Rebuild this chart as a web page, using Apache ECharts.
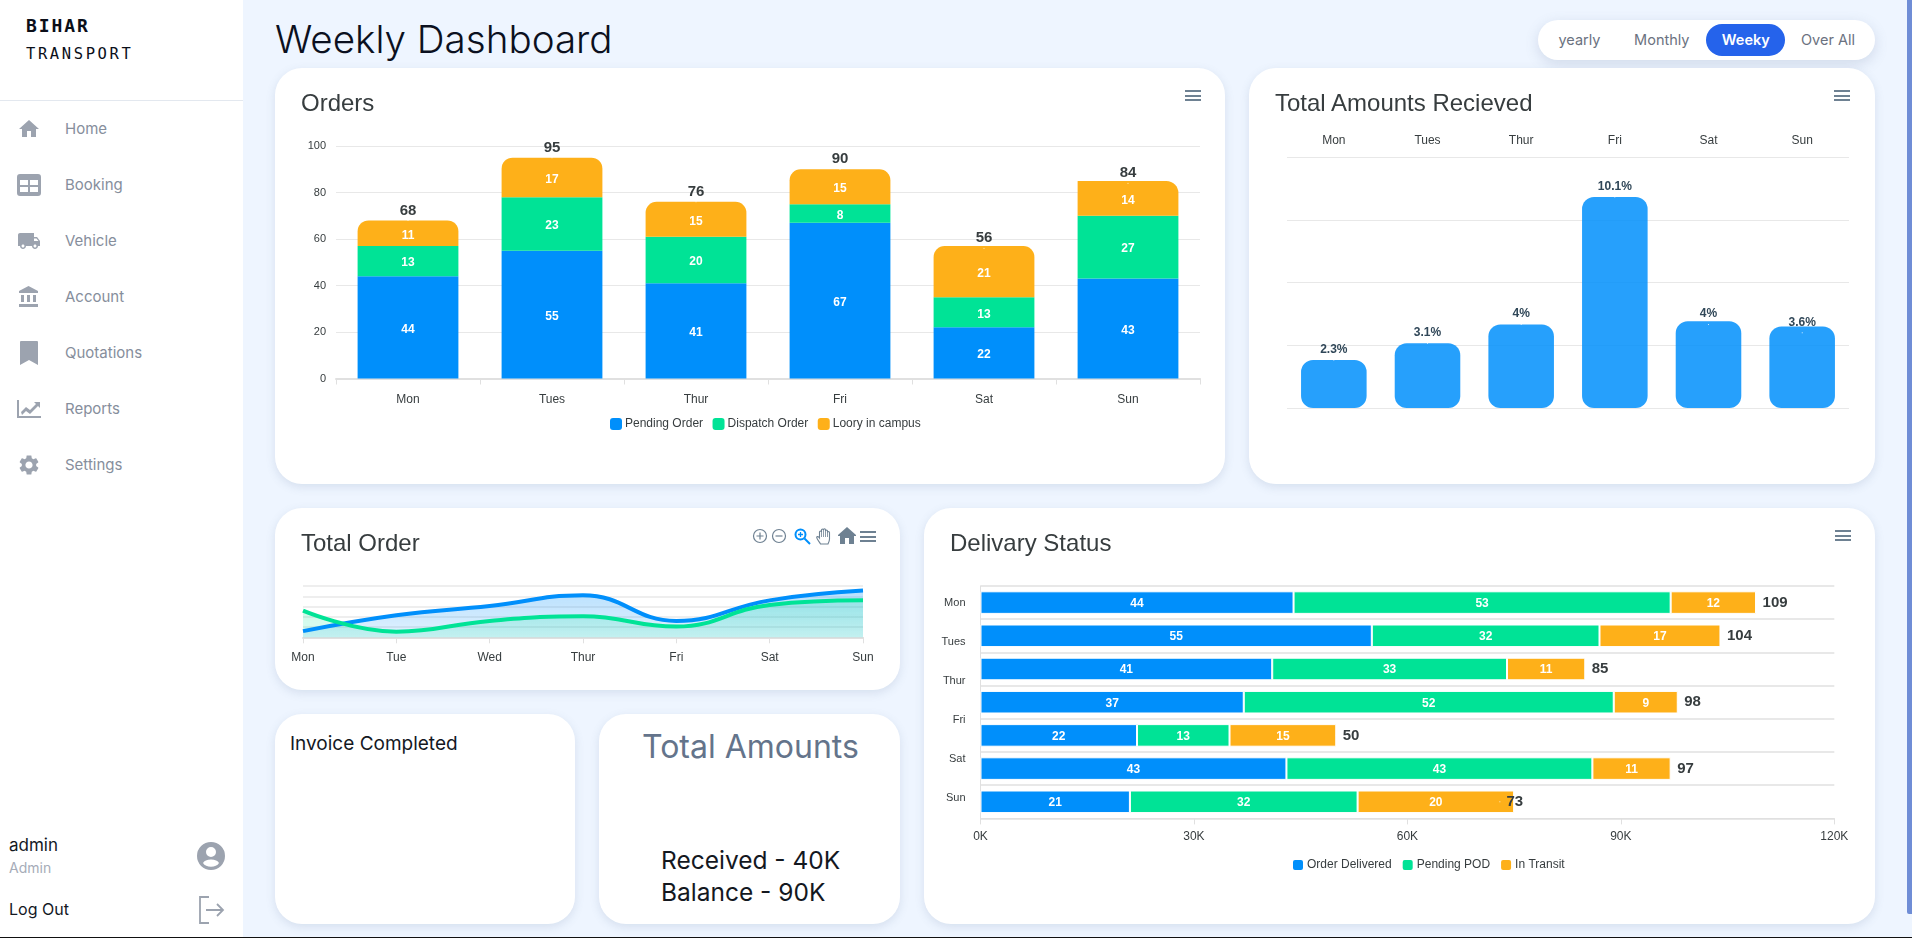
<!DOCTYPE html>
<html>
<head>
<meta charset="utf-8">
<title>Weekly Dashboard</title>
<script src="https://cdn.jsdelivr.net/npm/echarts@6/dist/echarts.min.js"></script>
<style>
html, body { margin: 0; padding: 0; width: 1912px; height: 938px; overflow: hidden; background: #eef5ff; font-family: Inter, "Noto Sans", sans-serif; }
.abs, .card, .txt, .icon { position: absolute; }
.sidebar { position: absolute; left: 0; top: 0; width: 243px; height: 938px; background: #fff; }
.divider { position: absolute; left: 0; top: 100px; width: 243px; height: 1px; background: #e3e8ef; }
.menu { position: absolute; left: 65px; font-size: 15px; line-height: 20px; color: #868e9c; }
.icon { fill: #9ca3af; }
.card { background: #fff; border-radius: 27px; box-shadow: 0 3px 10px rgba(90, 110, 150, 0.16); }
.chart { position: absolute; left: 0; top: 0; width: 100%; height: 100%; }
.title { position: absolute; left: 26px; top: 21px; font: 24px/28px "Liberation Sans", Arial, sans-serif; color: #373d3f; white-space: nowrap; z-index: 2; }
.burger { position: absolute; width: 16px; height: 11px; border-top: 2px solid #6e8192; border-bottom: 2px solid #6e8192; box-sizing: border-box; z-index: 2; }
.burger:after { content: ""; position: absolute; left: 0; right: 0; top: 2.5px; height: 2px; background: #6e8192; }
.tabs { position: absolute; left: 1538px; top: 20px; width: 337px; height: 40px; border-radius: 20px; background: #fff; box-shadow: 0 4px 14px rgba(90, 110, 150, 0.2); }
.pill { position: absolute; left: 168px; top: 4px; width: 79px; height: 32px; border-radius: 16px; background: #2563eb; }
.tab { position: absolute; top: 0; line-height: 40px; font-size: 14.5px; color: #6b7280; transform: translateX(-50%); white-space: nowrap; }
.strip { position: absolute; left: 1907px; top: 0; width: 5px; height: 914px; background: #6f8dd6; border-bottom-left-radius: 2px; }
.bottom-line { position: absolute; left: 0; top: 937px; width: 1912px; height: 1px; background: #111; z-index: 5; }
</style>
</head>
<body>
<div class="sidebar">
  <div class="abs" style="left:26px;top:15px;font:bold 18px/22px 'DejaVu Sans Mono',monospace;letter-spacing:1.900px;color:#0b0f19;">BIHAR</div>
  <div class="abs" style="left:26px;top:43px;font:15.5px/22px 'DejaVu Sans Mono',monospace;letter-spacing:2.600px;color:#0b0f19;">TRANSPORT</div>
  <div class="divider"></div>

  <svg class="icon" style="left:17px;top:117px" width="24" height="24" viewBox="0 0 24 24"><path d="M10 20v-6h4v6h5v-8h3L12 3 2 12h3v8z"/></svg>
  <div class="menu" style="top:119px">Home</div>
  <svg class="icon" style="left:17px;top:174px" width="24" height="22" viewBox="0 0 24 22"><path fill-rule="evenodd" d="M3 0h18a3 3 0 0 1 3 3v16a3 3 0 0 1-3 3H3a3 3 0 0 1-3-3V3a3 3 0 0 1 3-3zM3 6v5h8V6zm10 0v5h8V6zM3 13v5h8v-5zm10 0v5h8v-5z"/></svg>
  <div class="menu" style="top:175px">Booking</div>
  <svg class="icon" style="left:17px;top:229px" width="24" height="24" viewBox="0 0 24 24"><path d="M20 8h-3V4H3c-1.1 0-2 .9-2 2v11h2c0 1.66 1.34 3 3 3s3-1.34 3-3h6c0 1.66 1.34 3 3 3s3-1.34 3-3h2v-5l-3-4zM6 18.500c-.83 0-1.500-.67-1.500-1.500s.67-1.500 1.500-1.500 1.500.67 1.500 1.500-.67 1.500-1.500 1.500zm13.500-9l1.960 2.500H17V9.500h2.500zm-1.500 9c-.83 0-1.500-.67-1.500-1.500s.67-1.500 1.500-1.500 1.500.67 1.500 1.500-.67 1.500-1.500 1.500z"/></svg>
  <div class="menu" style="top:231px">Vehicle</div>
  <svg class="icon" style="left:17px;top:285px" width="24" height="24" viewBox="0 0 24 24"><path d="M4 10v7h3v-7H4zm6 0v7h3v-7h-3zM2 22h19v-3H2v3zm14-12v7h3v-7h-3zm-4.500-9L2 6v2h19V6l-9.500-5z"/></svg>
  <div class="menu" style="top:287px">Account</div>
  <svg class="icon" style="left:19px;top:341px" width="20" height="24" viewBox="0 0 20 24"><path d="M2 0h16a1 1 0 0 1 1 1v23l-9-5-9 5V1a1 1 0 0 1 1-1z"/></svg>
  <div class="menu" style="top:343px">Quotations</div>
  <svg class="icon" style="left:17px;top:400px" width="24" height="18" viewBox="0 0 24 18"><path d="M0 0h2v16h22v2H0z"/><path d="M4 12l5-5 4 3 6-6-2-2h6v6l-2-2-8 8-4-3-4 4z"/></svg>
  <div class="menu" style="top:399px">Reports</div>
  <svg class="icon" style="left:17px;top:453px" width="24" height="24" viewBox="0 0 24 24"><path d="M19.140 12.940c.04-.3.06-.61.06-.94 0-.32-.02-.64-.07-.94l2.030-1.580c.18-.14.23-.41.12-.61l-1.920-3.320c-.12-.22-.37-.29-.59-.22l-2.390.96c-.5-.38-1.030-.7-1.620-.94l-.36-2.540c-.04-.24-.24-.41-.48-.41h-3.840c-.24 0-.43.17-.47.41l-.36 2.540c-.59.24-1.130.57-1.620.94l-2.390-.96c-.22-.08-.47 0-.59.22L2.740 8.870c-.12.21-.08.47.12.61l2.030 1.580c-.05.3-.09.63-.09.94s.02.64.07.94l-2.030 1.580c-.18.14-.23.41-.12.61l1.920 3.320c.12.22.37.29.59.22l2.390-.96c.5.38 1.030.7 1.620.94l.36 2.540c.05.24.24.41.48.41h3.840c.24 0 .44-.17.47-.41l.36-2.540c.59-.24 1.130-.56 1.620-.94l2.390.96c.22.08.47 0 .59-.22l1.920-3.320c.12-.22.07-.47-.12-.61l-2.010-1.580zM12 15.600c-1.980 0-3.600-1.620-3.600-3.600s1.620-3.600 3.600-3.600 3.600 1.620 3.600 3.600-1.620 3.600-3.600 3.600z"/></svg>
  <div class="menu" style="top:455px">Settings</div>

  <div class="abs" style="left:9px;top:834px;font-size:17px;line-height:22px;color:#14181f;">admin</div>
  <div class="abs" style="left:9px;top:858px;font-size:14px;line-height:20px;color:#a6acb8;">Admin</div>
  <svg class="icon" style="left:197px;top:842px" width="28" height="28" viewBox="0 0 28 28"><path fill-rule="evenodd" d="M14 0a14 14 0 1 1 0 28a14 14 0 1 1 0-28zM14 5a5 5 0 1 0 0 10a5 5 0 1 0 0-10zM6 21c1.500 2.500 4.500 3.800 8 3.800s6.500-1.300 8-3.800c-1-2.200-4-3.500-8-3.500s-7 1.300-8 3.500z"/></svg>
  <div class="abs" style="left:9px;top:898px;font-size:16px;line-height:22px;color:#14181f;">Log Out</div>
  <svg class="abs" style="left:198px;top:895px" width="28" height="30" viewBox="0 0 28 30" fill="none" stroke="#9ca3af" stroke-width="1.800"><path d="M11 2H2v26h9"/><path d="M8 15h17M19 9l6 6-6 6"/></svg>
</div>

<div class="abs" style="left:275px;top:13px;font-size:38.600px;line-height:52px;font-weight:300;color:#0b1020;white-space:nowrap;">Weekly Dashboard</div>

<div class="tabs">
  <div class="pill"></div>
  <div class="tab" style="left:41.500px">yearly</div>
  <div class="tab" style="left:123.800px">Monthly</div>
  <div class="tab" style="left:207.800px;color:#fff;font-weight:600">Weeky</div>
  <div class="tab" style="left:290px">Over All</div>
</div>

<div class="card" style="left:275px;top:68px;width:950px;height:416px;">
  <div id="ordersChart" class="chart"></div>
  <div class="title">Orders</div>
  <div class="burger" style="left:910px;top:22px"></div>
</div>

<div class="card" style="left:1249px;top:68px;width:626px;height:416px;">
  <div id="amountsChart" class="chart"></div>
  <div class="title">Total Amounts Recieved</div>
  <div class="burger" style="left:585px;top:22px"></div>
</div>

<div class="card" style="left:275px;top:508px;width:625px;height:182px;">
  <div id="totalOrderChart" class="chart"></div>
  <div class="title">Total Order</div>
  <svg class="abs" style="left:477px;top:20px;z-index:2" width="36" height="16" viewBox="0 0 36 16" fill="none" stroke="#6e8192" stroke-width="1.200"><circle cx="8" cy="8" r="6.500"/><path d="M8 4.500v7M4.500 8h7"/><circle cx="27" cy="8" r="6.500"/><path d="M23.500 8h7"/></svg>
  <svg class="abs" style="left:519px;top:20px;z-index:2" width="17" height="17" viewBox="0 0 17 17" fill="none" stroke="#008ffb" stroke-width="2"><circle cx="6.500" cy="6.500" r="5"/><path d="M10.500 10.500l5.500 5.500"/><path stroke-width="1.300" d="M6.500 4v5M4 6.500h5"/></svg>
  <svg class="abs" style="left:541px;top:19.500px;z-index:2" width="16" height="17" viewBox="0 0 16 17" fill="#fff" stroke="#6e8192" stroke-width="1.100"><path d="M4.500 16C3.500 14 .7 11 .7 9.500S2.500 8.500 3.500 10V4a1 1 0 0 1 2 0V2a1 1 0 0 1 2 0v-.2a1 1 0 0 1 2 0V3a1 1 0 0 1 2 0v1.500a1 1 0 0 1 2 0V11c0 2-.8 3.500-1.500 5z"/><path d="M5.500 4v5M7.500 2v7M9.500 2v7M11.500 3v6" stroke-width="0.800"/></svg>
  <svg class="abs" style="left:563px;top:19px;z-index:2" width="18" height="18" viewBox="3 3 18 18" fill="#6e8192"><path d="M10 20v-6h4v6h5v-8h3L12 3 2 12h3v8z"/></svg>
  <div class="burger" style="left:585px;top:23px"></div>
</div>

<div class="card" style="left:275px;top:714px;width:300px;height:210px;">
  <div class="abs" style="left:15px;top:18px;font-size:19px;line-height:24px;color:#14181f;white-space:nowrap;">Invoice Completed</div>
</div>

<div class="card" style="left:599px;top:714px;width:301px;height:210px;">
  <div class="abs" style="left:43px;top:13px;font-size:32px;line-height:40px;color:#64748b;white-space:nowrap;">Total Amounts</div>
  <div class="abs" style="left:62px;top:130px;font-size:24.500px;line-height:32px;color:#14181f;white-space:nowrap;">Received - 40K<br>Balance - 90K</div>
</div>

<div class="card" style="left:924px;top:508px;width:951px;height:416px;">
  <div id="deliveryChart" class="chart"></div>
  <div class="title">Delivary Status</div>
  <div class="burger" style="left:911px;top:22px"></div>
</div>

<div class="strip"></div>
<div class="bottom-line"></div>

<script>
const BLUE = '#008ffb';
const GREEN = '#00e396';
const ORANGE = '#feb019';
const TEXT = '#373d3f';
const GRID_LINE = '#e8e8e8';
const CHART_FONT = '"Liberation Sans", Arial, sans-serif';

// Orders
const orderDays = ['Mon', 'Tues', 'Thur', 'Fri', 'Sat', 'Sun'];
const pendingOrder = [44, 55, 41, 67, 22, 43];
const dispatchOrder = [13, 23, 20, 8, 13, 27];
const looryInCampus = [11, 17, 15, 15, 22, 15];
const looryLabels = [11, 17, 15, 15, 21, 14];
const orderTotals = [68, 95, 76, 90, 56, 84];

// Total Amounts Recieved
const amountBars = [2.3, 3.1, 4, 10.1, 4.15, 3.9];
const amountLabels = [2.3, 3.1, 4, 10.1, 4, 3.6];

// Total Order
const totalOrderDays = ['Mon', 'Tue', 'Wed', 'Thur', 'Fri', 'Sat', 'Sun'];
const totalOrderBlue = [12, 43, 61, 82, 32, 72, 91];
const totalOrderGreen = [52, 11, 32, 41, 21, 63, 72];

// Delivary Status
const deliveryRows = ['Mon', 'Tues', 'Thur', 'Fri', 'Sat', 'Sat2', 'Sun'];
const deliveryAxisLabels = ['Mon', 'Tues', 'Thur', 'Fri', 'Sat', 'Sun'];
const orderDelivered = [44, 55, 41, 37, 22, 43, 21];
const pendingPod = [53, 32, 33, 52, 13, 43, 32];
const inTransit = [12, 17, 11, 9, 15, 11, 22];
const inTransitLabels = [12, 17, 11, 9, 15, 11, 20];
const deliveryTotals = [109, 104, 85, 98, 50, 97, 73];

const axisText = { color: TEXT, fontSize: 12, fontFamily: CHART_FONT };

function legendOf(names, left, top, gap) {
  return {
    data: names, left: left, top: top, orient: 'horizontal',
    icon: 'roundRect', itemWidth: 12, itemHeight: 12, itemGap: gap,
    textStyle: { color: TEXT, fontSize: 12, fontFamily: CHART_FONT, padding: [0, 0, 0, -2] },
    selectedMode: false
  };
}

function whiteLabel(formatter, dy) {
  return { show: true, position: 'inside', offset: [0, dy], color: '#fff', fontSize: 12, fontWeight: 'bold', fontFamily: CHART_FONT, formatter: formatter };
}

function totalLabel(position, distance) {
  return {
    show: true, position: position, distance: distance, color: TEXT,
    fontSize: 15, fontWeight: 'bold', fontFamily: CHART_FONT
  };
}

const ordersChart = echarts.init(document.getElementById('ordersChart'));
ordersChart.setOption({
  animation: false,
  legend: legendOf(['Pending Order', 'Dispatch Order', 'Loory in campus'], 330, 345, 9.5),
  grid: { left: 61, top: 78, width: 864, height: 232.5 },
  xAxis: {
    type: 'category', data: orderDays,
    axisLine: { lineStyle: { color: '#e0e0e0', width: 2 } },
    axisTick: { show: true, length: 6, lineStyle: { color: '#e0e0e0' } },
    axisLabel: { ...axisText, margin: 15 }
  },
  yAxis: {
    type: 'value', min: 0, max: 100, interval: 20,
    axisLabel: { ...axisText, fontSize: 11, margin: 10, padding: [0, 0, 2, 0] },
    splitLine: { lineStyle: { color: GRID_LINE } }
  },
  series: [
    { name: 'Pending Order', type: 'bar', stack: 'orders', barWidth: '70%', data: pendingOrder,
      itemStyle: { color: BLUE }, label: whiteLabel('{c}', 2) },
    { name: 'Dispatch Order', type: 'bar', stack: 'orders', data: dispatchOrder,
      itemStyle: { color: GREEN }, label: whiteLabel('{c}', 2) },
    { name: 'Loory in campus', type: 'bar', stack: 'orders',
      data: looryInCampus.map((v, i) => ({
        value: v,
        itemStyle: { borderRadius: i === 5 ? [0, 12, 0, 0] : [11, 11, 0, 0] }
      })),
      itemStyle: { color: ORANGE }, label: whiteLabel((p) => looryLabels[p.dataIndex], 2) },
    { name: 'total', type: 'line', data: orderTotals, symbolSize: 1, silent: true,
      itemStyle: { color: 'transparent' }, lineStyle: { opacity: 0 },
      label: totalLabel('top', 1) }
  ]
});

const amountsChart = echarts.init(document.getElementById('amountsChart'));
amountsChart.setOption({
  animation: false,
  grid: { left: 38, top: 89.3, width: 562, height: 250.7 },
  xAxis: {
    type: 'category', position: 'top', data: orderDays,
    axisLine: { show: false }, axisTick: { show: false },
    axisLabel: { ...axisText, margin: 11 }
  },
  yAxis: {
    type: 'value', min: 0, max: 12, interval: 3,
    axisLabel: { show: false }, axisTick: { show: false }, axisLine: { show: false },
    splitLine: { lineStyle: { color: GRID_LINE } }
  },
  series: [
    { type: 'bar', barWidth: '70%', data: amountBars, itemStyle: { color: BLUE, opacity: 0.85, borderRadius: 12 } },
    { type: 'line', data: amountLabels, symbolSize: 1, silent: true,
      itemStyle: { color: 'transparent' }, lineStyle: { opacity: 0 },
      label: { show: true, position: 'top', distance: 3, color: '#304758', fontSize: 12, fontWeight: 'bold', fontFamily: CHART_FONT, formatter: '{c}%' } }
  ]
});

const totalOrderChart = echarts.init(document.getElementById('totalOrderChart'));
function areaFill(color, top, bottom) {
  return { color: new echarts.graphic.LinearGradient(0, 0, 0, 1, [
    { offset: 0, color: echarts.color.modifyAlpha(color, top) },
    { offset: 1, color: echarts.color.modifyAlpha(color, bottom) }
  ]) };
}
totalOrderChart.setOption({
  animation: false,
  grid: { left: 28, top: 78, width: 560, height: 51.3 },
  xAxis: {
    type: 'category', boundaryGap: false, data: totalOrderDays,
    axisLine: { lineStyle: { color: '#e0e0e0', width: 2 } },
    axisTick: { show: true, length: 6, lineStyle: { color: '#e0e0e0' } },
    axisLabel: { ...axisText, margin: 14, showMinLabel: true, showMaxLabel: true }
  },
  yAxis: {
    type: 'value', min: 0, max: 100, interval: 20,
    axisLabel: { show: false },
    splitLine: { lineStyle: { color: '#eeeeee', width: 2 } }
  },
  series: [
    { type: 'line', data: totalOrderBlue, smooth: 0.45, showSymbol: false,
      lineStyle: { color: BLUE, width: 4 }, itemStyle: { color: BLUE }, areaStyle: areaFill(BLUE, 0.4, 0.16) },
    { type: 'line', data: totalOrderGreen, smooth: 0.45, showSymbol: false,
      lineStyle: { color: GREEN, width: 4 }, itemStyle: { color: GREEN }, areaStyle: areaFill(GREEN, 0.3, 0.2) }
  ]
});

const deliveryChart = echarts.init(document.getElementById('deliveryChart'));
deliveryChart.setOption({
  animation: false,
  legend: legendOf(['Order Delivered', 'Pending POD', 'In Transit'], 362, 345, 9),
  grid: [
    { left: 56.5, top: 78, width: 853.8, height: 232.4 },
    // the axis labels sit on a wider step than the rows in the reference
    { left: 56.5, top: 76, width: 853.8, height: 233 }
  ],
  xAxis: [
    { type: 'value', min: 0, max: 120, interval: 30,
      axisLine: { show: true, lineStyle: { color: '#e0e0e0' } },
      axisTick: { show: true, length: 6, lineStyle: { color: '#e0e0e0' } },
      axisLabel: { ...axisText, margin: 12, formatter: '{value}K' },
      splitLine: { show: false } },
    { type: 'value', gridIndex: 1, show: false, min: 0, max: 120 }
  ],
  yAxis: [
    { type: 'category', inverse: true, data: deliveryRows,
      axisLine: { show: true, lineStyle: { color: '#e0e0e0' } }, axisTick: { show: false },
      axisLabel: { show: false },
      splitLine: { show: true, lineStyle: { color: GRID_LINE, width: 2 } } },
    { type: 'category', gridIndex: 1, inverse: true, data: deliveryAxisLabels,
      axisLine: { show: false }, axisTick: { show: false },
      axisLabel: { ...axisText, fontSize: 11, margin: 15 } }
  ],
  series: [
    { name: 'Order Delivered', type: 'bar', stack: 'status', barWidth: '68%', data: orderDelivered,
      itemStyle: { color: BLUE, borderColor: '#fff', borderWidth: 1 }, label: whiteLabel('{c}', 1) },
    { name: 'Pending POD', type: 'bar', stack: 'status', data: pendingPod,
      itemStyle: { color: GREEN, borderColor: '#fff', borderWidth: 1 }, label: whiteLabel('{c}', 1) },
    { name: 'In Transit', type: 'bar', stack: 'status', data: inTransit,
      itemStyle: { color: ORANGE, borderColor: '#fff', borderWidth: 1 },
      label: whiteLabel((p) => inTransitLabels[p.dataIndex], 1) },
    { name: 'total', type: 'line', data: deliveryTotals, symbolSize: 1, silent: true,
      itemStyle: { color: 'transparent' }, lineStyle: { opacity: 0 },
      label: totalLabel('right', 5) }
  ]
});
</script>
</body>
</html>
